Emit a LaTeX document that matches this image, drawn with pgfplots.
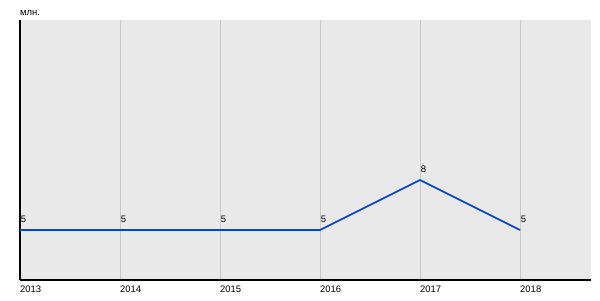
\documentclass[border=0pt]{standalone}
\usepackage{fontspec}
\setmainfont{Liberation Sans}
\usepackage{pgfplots}
\pgfplotsset{compat=1.18}
\definecolor{bgc}{RGB}{233,233,233}
\definecolor{gridc}{RGB}{200,200,200}
\definecolor{linec}{RGB}{0,68,221}
\begin{document}
\begin{tikzpicture}[x=1bp,y=1bp]
\path[use as bounding box] (0,0) rectangle (600,300);
\begin{axis}[
  at={(20bp,20bp)}, anchor=south west,
  scale only axis, width=571bp, height=260bp,
  xmin=2013, xmax=2018.71, ymin=2, ymax=17.6,
  axis background/.style={fill=bgc},
  axis x line*=bottom, axis y line*=left,
  axis line style={black, line width=1.2bp},
  x axis line style={-}, y axis line style={-},
  xtick={2013,2014,2015,2016,2017,2018},
  ytick=\empty,
  xticklabel style={anchor=north west, inner sep=0pt, yshift=-5.5bp, font=\fontsize{9.5}{10}\selectfont},
  xticklabels={2013,2014,2015,2016,2017,2018},
  major tick length=0pt,
  xmajorgrids, grid style={gridc, line width=1bp},
  /pgf/number format/assume math mode=true,
  /pgf/number format/1000 sep={},
  clip=false,
]
\addplot[color=linec, line width=1.6bp, mark=none,
  nodes near coords,
  every node near coord/.append style={anchor=south west, inner sep=0pt, yshift=7bp, font=\fontsize{9.5}{10}\selectfont, text=black}]
  coordinates {(2013,5) (2014,5) (2015,5) (2016,5) (2017,8) (2018,5)};
\end{axis}
\node[anchor=west, inner sep=0pt, font=\fontsize{9.5}{10}\selectfont] at (20,287) {млн.};
\end{tikzpicture}
\end{document}
